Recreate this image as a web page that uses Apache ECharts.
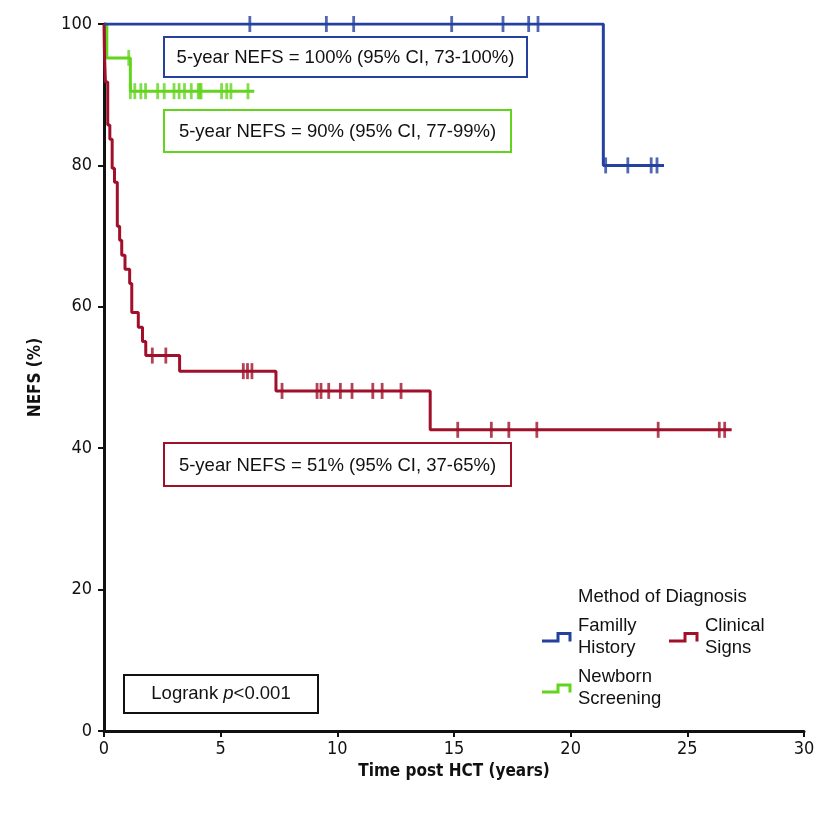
<!DOCTYPE html>
<html>
<head>
<meta charset="utf-8">
<script src="https://cdn.jsdelivr.net/npm/echarts@6/dist/echarts.min.js"></script>
<style>
html,body{margin:0;padding:0;background:#fff;}
#c{width:833px;height:822px;}
</style>
</head>
<body>
<div id="c"></div>
<script>
// ---- data ----
const xTicks = [0, 5, 10, 15, 20, 25, 30];
const yTicks = [0, 20, 40, 60, 80, 100];

// Familly History (event times / survival after event)
const blueTimes = [0, 21.4];
const blueValues = [100, 80];
const blueEnd = 24.0;
const blueCensor = [6.25, 9.53, 10.7, 14.9, 17.1, 18.2, 18.6, 21.5, 22.45, 23.45, 23.7];

// Newborn Screening
const greenTimes = [0, 0.12, 1.13];
const greenValues = [100, 95.2, 90.5];
const greenEnd = 6.44;
const greenCensor = [1.06, 1.13, 1.32, 1.58, 1.78, 2.3, 2.58, 3.0, 3.22, 3.45, 3.74, 4.04, 4.11, 4.16, 5.04, 5.26, 5.44, 6.17];

// Clinical Signs
const redTimes = [0, 0.02, 0.06, 0.16, 0.25, 0.35, 0.45, 0.57, 0.67, 0.76, 0.90, 1.10, 1.19, 1.47, 1.65, 1.79, 3.24, 7.37, 13.98];
const redValues = [100, 95.9, 91.8, 85.7, 83.7, 79.6, 77.6, 71.4, 69.4, 67.3, 65.3, 63.3, 59.2, 57.1, 55.1, 53.1, 50.9, 48.1, 42.6];
const redEnd = 26.9;
const redCensor = [2.07, 2.65, 5.97, 6.15, 6.34, 7.63, 9.13, 9.30, 9.63, 10.13, 10.63, 11.52, 11.92, 12.73, 15.16, 16.6, 17.35, 18.55, 23.75, 26.37, 26.6];

const annotations = [
  '5-year NEFS = 100% (95% CI, 73-100%)',
  '5-year NEFS = 90% (95% CI, 77-99%)',
  '5-year NEFS = 51% (95% CI, 37-65%)'
];

// ---- helpers ----
const BLUE = '#2541a0', GREEN = '#63d41e', RED = '#a0102a';
function curve(times, values, end) {
  const d = times.map((t, i) => [t, values[i]]);
  d.push([end, values[values.length - 1]]);
  return d;
}
function levelAt(times, values, t) {
  let v = values[0];
  for (let i = 0; i < times.length; i++) if (times[i] <= t) v = values[i];
  return v;
}
function censor(times, values, cs) {
  return cs.map(t => [t, levelAt(times, values, t)]);
}
const FONT = "'Liberation Sans', Arial, sans-serif";
const NARROW = "'Liberation Sans Narrow', 'DejaVu Sans Condensed', sans-serif";
const TXT = '18.5px ' + FONT;

function stepSeries(name, color, data, z) {
  return { name, type: 'line', step: 'end', data, symbol: 'none', z,
    lineStyle: { color, width: 3 }, animation: false };
}
function censorSeries(color, data, z) {
  return { type: 'scatter', data, symbol: 'rect', symbolSize: [2.8, 16], z,
    itemStyle: { color }, animation: false };
}

const chart = echarts.init(document.getElementById('c'), null, { renderer: 'canvas' });

function box(x, y, w, h, color, text) {
  return [
    { type: 'rect', shape: { x, y, width: w, height: h },
      style: { fill: '#fff', stroke: color, lineWidth: 2 }, z: 10 },
    { type: 'text', x: x + w / 2, y: y + h / 2 + 1, z: 11,
      style: { text, font: TXT, fill: '#111', align: 'center', verticalAlign: 'middle' } }
  ];
}

const graphics = [].concat(
  box(164, 37, 363, 40, BLUE, annotations[0]),
  box(164, 110, 347, 42, GREEN, annotations[1]),
  box(164, 443, 347, 43, RED, annotations[2]),
  [
    { type: 'rect', shape: { x: 124, y: 675, width: 194, height: 38 },
      style: { fill: '#fff', stroke: '#111', lineWidth: 2 }, z: 10 },
    { type: 'text', x: 221, y: 694, z: 11,
      style: { text: '{n|Logrank }{i|p}{n|<0.001}', align: 'center', verticalAlign: 'middle',
        rich: { n: { font: TXT, fill: '#111' }, i: { font: 'italic ' + TXT, fill: '#111' } } } },
    { type: 'text', x: 578, y: 597, style: { text: 'Method of Diagnosis', font: TXT, fill: '#111', verticalAlign: 'middle' } },
    { type: 'polyline', shape: { points: [[542, 641], [558, 641], [558, 633.5], [570, 633.5], [570, 641.5]] },
      style: { stroke: BLUE, lineWidth: 3, fill: null } },
    { type: 'text', x: 578, y: 637, style: { text: 'Familly\nHistory', font: TXT, lineHeight: 22, fill: '#111', verticalAlign: 'middle' } },
    { type: 'polyline', shape: { points: [[669, 641], [685, 641], [685, 633.5], [697, 633.5], [697, 641.5]] },
      style: { stroke: RED, lineWidth: 3, fill: null } },
    { type: 'text', x: 705, y: 637, style: { text: 'Clinical\nSigns', font: TXT, lineHeight: 22, fill: '#111', verticalAlign: 'middle' } },
    { type: 'polyline', shape: { points: [[542, 692], [558, 692], [558, 685], [570, 685], [570, 692.5]] },
      style: { stroke: GREEN, lineWidth: 3, fill: null } },
    { type: 'text', x: 578, y: 688, style: { text: 'Newborn\nScreening', font: TXT, lineHeight: 22, fill: '#111', verticalAlign: 'middle' } }
  ]
);

chart.setOption({
  animation: false,
  backgroundColor: '#fff',
  grid: { left: 104, right: 29, top: 24, bottom: 91, containLabel: false },
  xAxis: {
    type: 'value', min: xTicks[0], max: xTicks[xTicks.length - 1], interval: 5,
    name: 'Time post HCT (years)', nameLocation: 'middle', nameGap: 26,
    nameTextStyle: { fontFamily: NARROW, fontSize: 17, fontWeight: 'bold', color: '#111' },
    axisLine: { lineStyle: { color: '#111', width: 3 } },
    axisTick: { length: 6, lineStyle: { color: '#111', width: 2 } },
    axisLabel: { fontFamily: NARROW, fontSize: 18, color: '#111', margin: 9,
      formatter: v => xTicks.includes(v) ? String(v) : '' },
    splitLine: { show: false }
  },
  yAxis: {
    type: 'value', min: yTicks[0], max: yTicks[yTicks.length - 1], interval: 20,
    name: 'NEFS (%)', nameLocation: 'middle', nameGap: 60, nameRotate: 90,
    nameTextStyle: { fontFamily: NARROW, fontSize: 17, fontWeight: 'bold', color: '#111' },
    axisLine: { show: true, lineStyle: { color: '#111', width: 3 } },
    axisTick: { show: true, length: 6, lineStyle: { color: '#111', width: 2 } },
    axisLabel: { fontFamily: NARROW, fontSize: 18, color: '#111', margin: 12,
      formatter: v => yTicks.includes(v) ? String(v) : '' },
    splitLine: { show: false }
  },
  series: [
    stepSeries('Newborn Screening', GREEN, curve(greenTimes, greenValues, greenEnd), 3),
    censorSeries(GREEN, censor(greenTimes, greenValues, greenCensor), 3),
    stepSeries('Clinical Signs', RED, curve(redTimes, redValues, redEnd), 4),
    censorSeries(RED, censor(redTimes, redValues, redCensor), 4),
    stepSeries('Familly History', BLUE, curve(blueTimes, blueValues, blueEnd), 5),
    censorSeries(BLUE, censor(blueTimes, blueValues, blueCensor), 5)
  ],
  graphic: graphics
});
</script>
</body>
</html>
